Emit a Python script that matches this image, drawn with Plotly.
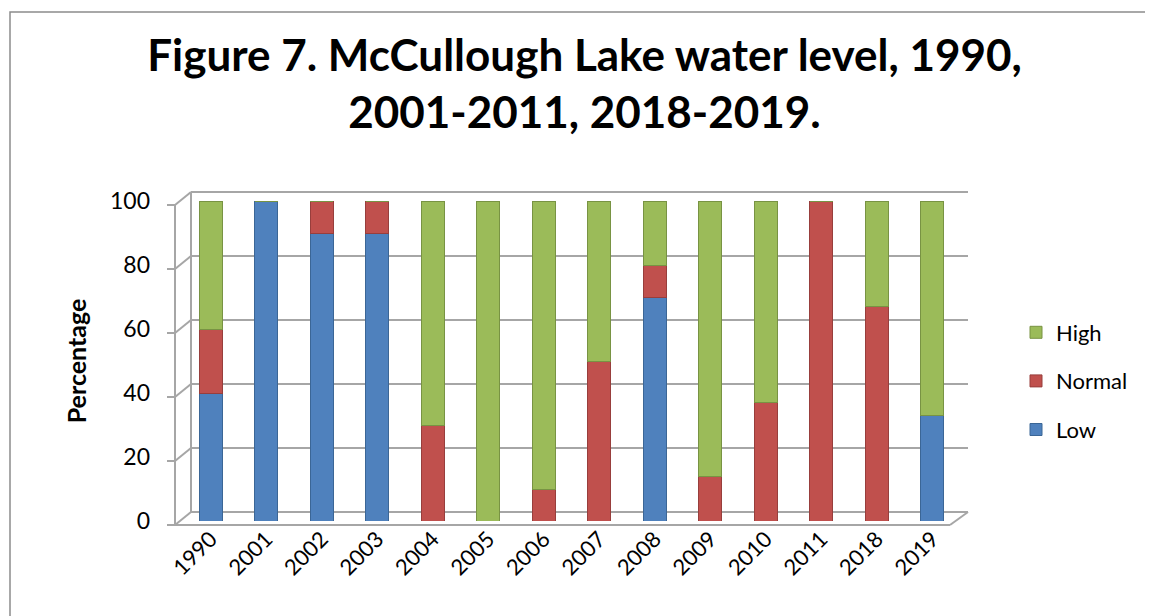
import plotly.graph_objects as go

years = ["1990", "2001", "2002", "2003", "2004", "2005", "2006", "2007",
         "2008", "2009", "2010", "2011", "2018", "2019"]
low = [40, 100, 90, 90, 0, 0, 0, 0, 70, 0, 0, 0, 0, 33]
normal = [20, 0, 10, 10, 30, 0, 10, 50, 10, 14, 37, 100, 67, 0]
high = [40, 0, 0, 0, 70, 100, 90, 50, 20, 86, 63, 0, 33, 67]
y_ticks = [0, 20, 40, 60, 80, 100]

W, H = 1153, 616
ML, MR, MT, MB = 175, 201, 193, 103
PW, PH = W - ML - MR, H - MT - MB
FONT = "Lato"
GRID = "#A6A6A6"

# 3D frame geometry (pixels)
FRONT_X, BACK_X, RIGHT_X, FLOOR_FRONT_RIGHT = 167, 183, 960, 942
FRONT_DY, BACK_DY = 4, -9


def px(x):
    return (x - ML) / PW


def py(y):
    return (H - MB - y) / PH


def ypix(v):
    return H - MB - v / 100 * PH


series = [("Low", low, "#4F81BD", "#3B6696", 3),
          ("Normal", normal, "#C0504D", "#983E3C", 2),
          ("High", high, "#9BBB59", "#789343", 1)]

fig = go.Figure()
for name, vals, col, edge, rank in series:
    fig.add_trace(go.Bar(
        x=years, y=vals, name=name, legendgroup=name, legendrank=rank,
        marker=dict(color=col, line=dict(color=edge, width=1)),
        width=0.41,
    ))

shapes = []
line = dict(color=GRID, width=2)
for v in y_ticks:
    yb = ypix(v)
    fy, by = yb + FRONT_DY, yb + BACK_DY
    shapes.append(dict(type="line", xref="paper", yref="paper",
                       x0=px(BACK_X), x1=px(RIGHT_X), y0=py(by), y1=py(by), line=line, layer="below"))
    shapes.append(dict(type="line", xref="paper", yref="paper",
                       x0=px(FRONT_X), x1=px(BACK_X), y0=py(fy), y1=py(by), line=line, layer="below"))
    shapes.append(dict(type="line", xref="paper", yref="paper",
                       x0=px(FRONT_X - 8), x1=px(FRONT_X), y0=py(fy), y1=py(fy), line=line, layer="below"))
y0p, y100p = ypix(0), ypix(100)
shapes.append(dict(type="line", xref="paper", yref="paper",
                   x0=px(FRONT_X), x1=px(FRONT_X), y0=py(y0p + FRONT_DY), y1=py(y100p + FRONT_DY),
                   line=line, layer="below"))
shapes.append(dict(type="line", xref="paper", yref="paper",
                   x0=px(BACK_X), x1=px(BACK_X), y0=py(y0p + BACK_DY), y1=py(y100p + BACK_DY),
                   line=line, layer="below"))
shapes.append(dict(type="line", xref="paper", yref="paper",
                   x0=px(FRONT_X), x1=px(FLOOR_FRONT_RIGHT), y0=py(y0p + FRONT_DY), y1=py(y0p + FRONT_DY),
                   line=line, layer="below"))
shapes.append(dict(type="line", xref="paper", yref="paper",
                   x0=px(FLOOR_FRONT_RIGHT), x1=px(RIGHT_X), y0=py(y0p + FRONT_DY), y1=py(y0p + BACK_DY),
                   line=line, layer="below"))
# outer chart border
shapes.append(dict(type="rect", xref="paper", yref="paper",
                   x0=px(2), x1=px(W - 3), y0=py(H + 5), y1=py(4),
                   line=dict(color="#8C8C8C", width=1.5), fillcolor="rgba(0,0,0,0)", layer="below"))

fig.update_layout(
    width=W, height=H,
    margin=dict(l=ML, r=MR, t=MT, b=MB),
    paper_bgcolor="white", plot_bgcolor="rgba(0,0,0,0)",
    barmode="stack",
    font=dict(family=FONT, color="black"),
    shapes=shapes,
    title=dict(text="<b>Figure 7. McCullough Lake water level, 1990,<br>2001-2011, 2018-2019.</b>",
               x=0.5, xref="container", xanchor="center",
               y=0.898, yref="container", yanchor="top",
               font=dict(family=FONT, size=44, color="black")),
    legend=dict(x=px(1008), xanchor="left", y=py(373), yanchor="middle",
                traceorder="grouped", tracegroupgap=17,
                font=dict(family=FONT, size=22, color="black")),
    xaxis=dict(type="category", categoryorder="array", categoryarray=years,
               tickangle=-45, tickfont=dict(family=FONT, size=22),
               showgrid=False, showline=False, ticks="", range=[-0.5, 13.5]),
    yaxis=dict(range=[0, 100], tickvals=y_ticks, tickfont=dict(family=FONT, size=23),
               showgrid=False, showline=False, ticks="", zeroline=False,
               ticklabelstandoff=32,
               title=dict(text="<b>Percentage</b>", font=dict(family=FONT, size=25), standoff=16)),
)

fig.write_html("out.html")
